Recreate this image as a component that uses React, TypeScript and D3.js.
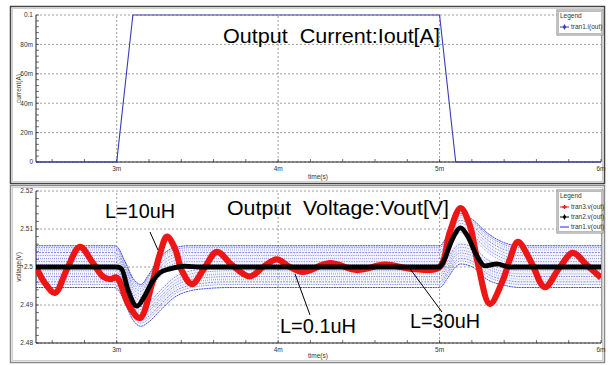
import React, { useEffect, useRef } from 'react';
import * as d3 from 'd3';

// time axis in ms
const xTickValues = [3, 4, 5, 6];
const xTickLabels = ['3m', '4m', '5m', '6m'];

const currentTicks = [0, 0.02, 0.04, 0.06, 0.08, 0.1];
const currentTickLabels = ['0', '20m', '40m', '60m', '80m', '0.1'];

const voltTicks = [2.48, 2.49, 2.5, 2.51, 2.52];
const voltTickLabels = ['2.48', '2.49', '2.5', '2.51', '2.52'];

// tran1.i(out)
const currentTime = [2.5, 3.0, 3.1, 5.0, 5.1, 6.0];
const currentValue = [0, 0, 0.1, 0.1, 0, 0];

// tran3.v(out)  (L=10uH)
const redTime = [2.5, 2.56, 2.618, 2.692, 2.772, 2.853, 2.915, 2.96, 3.0, 3.08, 3.144, 3.218, 3.268, 3.311, 3.36, 3.404, 3.466, 3.54, 3.62, 3.714, 3.825, 3.906, 3.992, 4.073, 4.153, 4.32, 4.49, 4.66, 4.83, 5.0, 5.062, 5.13, 5.187, 5.237, 5.311, 5.392, 5.435, 5.485, 5.565, 5.652, 5.738, 5.825, 5.912, 6.0];
const redValue = [2.5, 2.4955, 2.4932, 2.4995, 2.5053, 2.501, 2.4975, 2.4968, 2.4972, 2.4895, 2.4866, 2.4955, 2.5035, 2.508, 2.505, 2.499, 2.4955, 2.4995, 2.504, 2.5005, 2.4975, 2.5, 2.502, 2.5, 2.4987, 2.501, 2.4992, 2.5006, 2.4995, 2.5, 2.509, 2.5155, 2.511, 2.501, 2.4903, 2.4965, 2.502, 2.5066, 2.5015, 2.4947, 2.4995, 2.5037, 2.5005, 2.4972];

// tran2.v(out)  (L=30uH)
const blackTime = [2.5, 3.0, 3.03, 3.07, 3.125, 3.175, 3.218, 3.268, 3.33, 3.42, 3.515, 4.0, 5.0, 5.03, 5.076, 5.13, 5.175, 5.23, 5.28, 5.355, 5.435, 6.0];
const blackValue = [2.5, 2.5, 2.4995, 2.494, 2.4897, 2.4925, 2.496, 2.4985, 2.4995, 2.5002, 2.5, 2.5, 2.5, 2.502, 2.507, 2.5103, 2.508, 2.503, 2.5003, 2.5008, 2.5, 2.5];

// tran1.v(out)  (L=0.1uH, parameter sweep)
const blueLevels = [2.5056, 2.5051, 2.5045, 2.5038, 2.503, 2.5022, 2.5014, 2.5006, 2.4998, 2.499, 2.4982, 2.4975, 2.4968, 2.4961, 2.4954, 2.4946];
const blueTime = [2.5, 2.98, 3.0, 3.05, 3.1, 3.15, 3.2, 3.27, 3.36, 3.45, 3.55, 3.7, 4.0, 4.98, 5.0, 5.05, 5.1, 5.13, 5.2, 5.3, 5.4, 5.5, 6.0];
const blueFast = [0, 0, -0.0002, -0.004, -0.0085, -0.0102, -0.0075, -0.003, -0.0005, 0, 0, 0, 0, 0, 0, 0.003, 0.0075, 0.0085, 0.007, 0.0032, 0.0008, 0, 0];
const blueSlow = [0, 0, -0.0002, -0.004, -0.0085, -0.0102, -0.009, -0.006, -0.0025, -0.0009, -0.0003, 0, 0, 0, 0, 0.0025, 0.0055, 0.0062, 0.0055, 0.002, 0.0006, 0, 0];

const legendCurrent = ['tran1.i(out)'];
const legendVolt = ['tran3.v(out)', 'tran2.v(out)', 'tran1.v(out)'];

export default function App() {
  const ref = useRef<SVGSVGElement | null>(null);

  useEffect(() => {
    const svg = d3.select(ref.current);
    svg.selectAll('*').remove();

    const x = d3.scaleLinear().domain([2.5, 6]).range([36, 601]);
    const yI = d3.scaleLinear().domain([0, 0.1]).range([162, 15]);
    const yV = d3.scaleLinear().domain([2.48, 2.52]).range([343, 191]);

    svg.append('rect').attr('width', 608).attr('height', 365).attr('fill', 'white');

    // panel frames
    const frame = (top: number, h: number, dark: string) => {
      svg.append('rect').attr('x', 10.5).attr('y', top + 0.5).attr('width', 594).attr('height', h)
        .attr('fill', 'none').attr('stroke', dark).attr('stroke-width', 1.5);
      svg.append('rect').attr('x', 12.5).attr('y', top + 2.5).attr('width', 590).attr('height', h - 4)
        .attr('fill', 'none').attr('stroke', '#cfcfcf');
    };
    frame(6, 177, '#444');
    frame(185, 177, '#8a8a8a');

    const font = 'Liberation Sans, Arial, sans-serif';

    const drawAxes = (y: d3.ScaleLinear<number, number>, ticks: number[], labels: string[], minorStep: number, yTitle: string, timeY: number) => {
      const [y0, y1] = y.range();
      const g = svg.append('g');
      // grid
      ticks.forEach(t => {
        g.append('line').attr('x1', 36).attr('x2', 601).attr('y1', y(t)).attr('y2', y(t))
          .attr('stroke', '#888').attr('stroke-dasharray', '2 2').attr('stroke-width', 0.8);
      });
      xTickValues.slice(0, 3).forEach(t => {
        g.append('line').attr('x1', x(t)).attr('x2', x(t)).attr('y1', y0).attr('y2', y1)
          .attr('stroke', '#888').attr('stroke-dasharray', '2 2').attr('stroke-width', 0.8);
      });
      // right border
      g.append('line').attr('x1', 601.5).attr('x2', 601.5).attr('y1', y0).attr('y2', y1).attr('stroke', '#999');
      // minor y ticks
      const [d0, d1] = y.domain();
      for (let v = d0; v <= d1 + 1e-9; v += minorStep) {
        g.append('line').attr('x1', 36).attr('x2', 39).attr('y1', y(v)).attr('y2', y(v)).attr('stroke', '#333').attr('stroke-width', 0.7);
      }
      // minor x ticks
      for (let t = 2.6; t <= 6.0001; t += 0.2) {
        g.append('line').attr('x1', x(t)).attr('x2', x(t)).attr('y1', y0).attr('y2', y0 - 3).attr('stroke', '#333').attr('stroke-width', 0.7);
      }
      // axes lines
      g.append('line').attr('x1', 36).attr('x2', 36).attr('y1', y0).attr('y2', y1).attr('stroke', '#222');
      g.append('line').attr('x1', 36).attr('x2', 601).attr('y1', y0).attr('y2', y0).attr('stroke', '#222');
      // labels
      ticks.forEach((t, i) => {
        g.append('text').attr('x', 33).attr('y', y(t) + 2.3).attr('text-anchor', 'end')
          .attr('font-size', 6.5).attr('font-family', font).attr('fill', '#333').text(labels[i]);
      });
      xTickValues.forEach((t, i) => {
        g.append('text').attr('x', x(t)).attr('y', y0 + 9).attr('text-anchor', 'middle')
          .attr('font-size', 6.5).attr('font-family', font).attr('fill', '#333').text(xTickLabels[i]);
      });
      g.append('text').attr('x', 318).attr('y', timeY).attr('text-anchor', 'middle')
        .attr('font-size', 6.5).attr('font-family', font).attr('fill', '#333').text('time(s)');
      g.append('text').attr('transform', `translate(21,${(y0 + y1) / 2}) rotate(-90)`).attr('text-anchor', 'middle')
        .attr('font-size', 6.5).attr('font-family', font).attr('fill', '#333').text(yTitle);
    };

    drawAxes(yI, currentTicks, currentTickLabels, 0.004, 'current(A)', 179);
    drawAxes(yV, voltTicks, voltTickLabels, 0.002, 'voltage(V)', 358);

    // current
    const lineI = d3.line<number>().x((_, i) => x(currentTime[i])).y(d => yI(d));
    svg.append('path').attr('d', lineI(currentValue)).attr('fill', 'none').attr('stroke', '#3a3ab8').attr('stroke-width', 1.1);

    // blue sweep
    const clipId = 'vclip';
    svg.append('clipPath').attr('id', clipId).append('rect').attr('x', 36).attr('y', 191).attr('width', 565).attr('height', 152);
    const gB = svg.append('g').attr('clip-path', `url(#${clipId})`);
    const dashes = ['1 1', '1.5 1', '0.8 1.2', '2 1', '1 0.8'];
    blueLevels.forEach((lvl, k) => {
      const shape = k < blueLevels.length / 2 ? blueFast : blueSlow;
      const vals = shape.map(s => lvl + s);
      const ln = d3.line<number>().x((_, i) => x(blueTime[i])).y(d => yV(d)).curve(d3.curveMonotoneX);
      const edge = k === 0 || k === blueLevels.length - 1;
      gB.append('path').attr('d', ln(vals)).attr('fill', 'none').attr('stroke', '#1f2fd0')
        .attr('stroke-width', edge ? 1 : 0.8).attr('opacity', edge ? 0.85 : 0.7)
        .attr('stroke-dasharray', edge ? '2 0.6' : dashes[k % dashes.length]);
      const ln2 = d3.line<number>().x((_, i) => x(blueTime[i])).y(d => yV(d + 0.0004)).curve(d3.curveMonotoneX);
      if (!edge) {
        gB.append('path').attr('d', ln2(vals)).attr('fill', 'none').attr('stroke', '#3a4ae0')
          .attr('stroke-width', 0.6).attr('opacity', 0.5).attr('stroke-dasharray', '0.6 1.4');
      }
    });

    // red
    const lineR = d3.line<number>().x((_, i) => x(redTime[i])).y(d => yV(d)).curve(d3.curveCatmullRom);
    gB.append('path').attr('d', lineR(redValue)).attr('fill', 'none').attr('stroke', '#ee1515').attr('stroke-width', 6.2)
      .attr('stroke-linejoin', 'round');

    // black
    const lineK = d3.line<number>().x((_, i) => x(blackTime[i])).y(d => yV(d)).curve(d3.curveMonotoneX);
    gB.append('path').attr('d', lineK(blackValue)).attr('fill', 'none').attr('stroke', '#000').attr('stroke-width', 4.8)
      .attr('stroke-linejoin', 'round');

    // titles
    const big = (tx: number, ty: number, s: string, len: number) => {
      svg.append('text').attr('x', tx).attr('y', ty).attr('font-size', 20).attr('font-family', font)
        .attr('fill', '#000').attr('textLength', len).attr('lengthAdjust', 'spacingAndGlyphs')
        .style('white-space', 'pre').text(s);
    };
    big(223, 43, 'Output  Current:Iout[A]', 217);
    big(227, 215, 'Output  Voltage:Vout[V]', 222);
    big(105, 218, 'L=10uH', 70);
    big(280, 333, 'L=0.1uH', 76);
    big(410, 328, 'L=30uH', 70);

    const pointer = (x1: number, y1: number, x2: number, y2: number) => {
      svg.append('line').attr('x1', x1).attr('y1', y1).attr('x2', x2).attr('y2', y2).attr('stroke', '#000').attr('stroke-width', 1);
    };
    pointer(150, 232, 158, 250);
    pointer(295, 274, 310, 315);
    pointer(408, 266, 442, 312);

    // legends
    const legend = (lx: number, ly: number, h: number, names: string[], colors: string[], marks: string[]) => {
      svg.append('rect').attr('x', lx).attr('y', ly).attr('width', 46).attr('height', h).attr('fill', 'white')
        .attr('stroke', '#888');
      svg.append('rect').attr('x', lx + 1.5).attr('y', ly + 1.5).attr('width', 43).attr('height', h - 3).attr('fill', 'none')
        .attr('stroke', '#bbb');
      svg.append('text').attr('x', lx + 3).attr('y', ly + 8).attr('font-size', 6.5).attr('font-family', font).attr('fill', '#333').text('Legend');
      names.forEach((n, i) => {
        const yy = ly + 17 + i * 10;
        svg.append('line').attr('x1', lx + 3).attr('x2', lx + 12).attr('y1', yy).attr('y2', yy).attr('stroke', colors[i]).attr('stroke-width', 1);
        if (marks[i] === 'diamond') {
          svg.append('path').attr('d', d3.symbol(d3.symbolDiamond, 10)()).attr('transform', `translate(${lx + 7.5},${yy})`).attr('fill', colors[i]);
        } else if (marks[i] === 'plus') {
          svg.append('path').attr('d', d3.symbol(d3.symbolCross, 10)()).attr('transform', `translate(${lx + 7.5},${yy})`).attr('fill', colors[i]);
        }
        svg.append('text').attr('x', lx + 14).attr('y', yy + 2.3).attr('font-size', 6.5).attr('font-family', font).attr('fill', '#333').text(n);
      });
    };
    legend(557, 10, 25, legendCurrent, ['#3a3ab8'], ['diamond']);
    legend(557, 190, 43, legendVolt, ['#ee1515', '#000', '#1f2fd0'], ['plus', 'diamond', 'none']);
  }, []);

  return (
    <svg ref={ref} width={608} height={365} style={{ position: 'absolute', left: 0, top: 0 }} />
  );
}
